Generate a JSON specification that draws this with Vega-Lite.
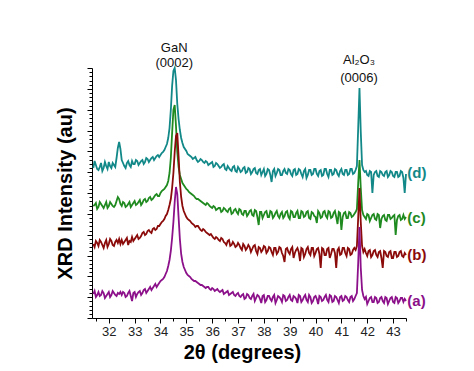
{
  "$schema": "https://vega.github.io/schema/vega-lite/v6.json",
  "width": 314,
  "height": 250,
  "autosize": {"type": "none"},
  "padding": {"left": 92, "top": 68, "right": 68, "bottom": 53},
  "background": "white",
  "config": {"view": {"stroke": null}, "font": "Liberation Sans"},
  "datasets": {
    "xrd": [
      {"x":31.4,"a":24,"b":74,"c":112,"d":150},
      {"x":31.5,"a":21,"b":77,"c":115,"d":153},
      {"x":31.6,"a":26,"b":72,"c":111,"d":148},
      {"x":31.7,"a":23,"b":76,"c":114,"d":155},
      {"x":31.8,"a":25,"b":70,"c":110,"d":150},
      {"x":31.9,"a":22,"b":78,"c":116,"d":152},
      {"x":32.0,"a":26,"b":74,"c":112,"d":156},
      {"x":32.1,"a":23,"b":77,"c":114,"d":150},
      {"x":32.2,"a":25,"b":72,"c":111,"d":153},
      {"x":32.3,"a":22,"b":78,"c":117,"d":160},
      {"x":32.35,"a":25,"b":75,"c":121,"d":170},
      {"x":32.4,"a":24,"b":79,"c":119,"d":176},
      {"x":32.45,"a":26,"b":74,"c":114,"d":169},
      {"x":32.5,"a":23,"b":78,"c":112,"d":158},
      {"x":32.6,"a":25,"b":76,"c":115,"d":152},
      {"x":32.7,"a":22,"b":80,"c":112,"d":155},
      {"x":32.8,"a":27,"b":77,"c":116,"d":153},
      {"x":32.9,"a":17,"b":81,"c":113,"d":157},
      {"x":33.0,"a":26,"b":79,"c":117,"d":154},
      {"x":33.1,"a":24,"b":83,"c":114,"d":157},
      {"x":33.2,"a":27,"b":80,"c":118,"d":155},
      {"x":33.3,"a":25,"b":85,"c":115,"d":158},
      {"x":33.4,"a":29,"b":83,"c":119,"d":156},
      {"x":33.5,"a":27,"b":87,"c":117,"d":159},
      {"x":33.6,"a":31,"b":86,"c":121,"d":158},
      {"x":33.7,"a":30,"b":89,"c":119,"d":161},
      {"x":33.8,"a":34,"b":88,"c":123,"d":160},
      {"x":33.9,"a":33,"b":92,"c":122,"d":163},
      {"x":34.0,"a":37,"b":94,"c":125,"d":163},
      {"x":34.1,"a":39,"b":97,"c":128,"d":166},
      {"x":34.2,"a":44,"b":102,"c":131,"d":171},
      {"x":34.25,"a":47,"b":104,"c":133,"d":174},
      {"x":34.3,"a":52,"b":108,"c":137,"d":180},
      {"x":34.35,"a":58,"b":113,"c":145,"d":190},
      {"x":34.4,"a":67,"b":119,"c":160,"d":208},
      {"x":34.45,"a":80,"b":130,"c":185,"d":232},
      {"x":34.5,"a":96,"b":145,"c":208,"d":247},
      {"x":34.55,"a":116,"b":166,"c":213,"d":250},
      {"x":34.6,"a":131,"b":182,"c":192,"d":238},
      {"x":34.65,"a":124,"b":185,"c":166,"d":214},
      {"x":34.7,"a":101,"b":162,"c":151,"d":199},
      {"x":34.75,"a":79,"b":136,"c":143,"d":188},
      {"x":34.8,"a":64,"b":121,"c":139,"d":180},
      {"x":34.85,"a":56,"b":112,"c":135,"d":175},
      {"x":34.9,"a":51,"b":107,"c":133,"d":171},
      {"x":35.0,"a":45,"b":101,"c":129,"d":167},
      {"x":35.1,"a":42,"b":98,"c":126,"d":163},
      {"x":35.2,"a":39,"b":95,"c":124,"d":161},
      {"x":35.3,"a":37,"b":93,"c":122,"d":160},
      {"x":35.4,"a":36,"b":92,"c":119,"d":158},
      {"x":35.5,"a":34,"b":90,"c":118,"d":157},
      {"x":35.6,"a":33,"b":87,"c":116,"d":158},
      {"x":35.7,"a":31,"b":88,"c":114,"d":155},
      {"x":35.8,"a":31,"b":85,"c":115,"d":156},
      {"x":35.9,"a":29,"b":83,"c":112,"d":154},
      {"x":36.0,"a":30,"b":82,"c":110,"d":156},
      {"x":36.1,"a":27,"b":79,"c":111,"d":152},
      {"x":36.2,"a":29,"b":80,"c":109,"d":154},
      {"x":36.3,"a":26,"b":77,"c":110,"d":150},
      {"x":36.4,"a":28,"b":79,"c":107,"d":153},
      {"x":36.5,"a":25,"b":75,"c":109,"d":149},
      {"x":36.6,"a":27,"b":77,"c":106,"d":152},
      {"x":36.7,"a":24,"b":72,"c":110,"d":148},
      {"x":36.8,"a":26,"b":76,"c":105,"d":151},
      {"x":36.9,"a":22,"b":71,"c":109,"d":147},
      {"x":37.0,"a":25,"b":75,"c":104,"d":151},
      {"x":37.1,"a":21,"b":70,"c":108,"d":146},
      {"x":37.2,"a":24,"b":74,"c":103,"d":150},
      {"x":37.3,"a":20,"b":68,"c":107,"d":145},
      {"x":37.4,"a":23,"b":73,"c":104,"d":150},
      {"x":37.5,"a":19,"b":66,"c":108,"d":144},
      {"x":37.6,"a":24,"b":72,"c":102,"d":149},
      {"x":37.7,"a":20,"b":67,"c":107,"d":145},
      {"x":37.8,"a":22,"b":71,"c":93,"d":148},
      {"x":37.9,"a":15,"b":66,"c":106,"d":143},
      {"x":38.0,"a":23,"b":72,"c":103,"d":149},
      {"x":38.1,"a":18,"b":65,"c":107,"d":144},
      {"x":38.2,"a":22,"b":71,"c":101,"d":148},
      {"x":38.3,"a":17,"b":66,"c":106,"d":136},
      {"x":38.4,"a":23,"b":70,"c":102,"d":149},
      {"x":38.5,"a":18,"b":64,"c":107,"d":145},
      {"x":38.6,"a":21,"b":71,"c":100,"d":148},
      {"x":38.7,"a":16,"b":65,"c":106,"d":143},
      {"x":38.8,"a":22,"b":56,"c":102,"d":149},
      {"x":38.9,"a":18,"b":70,"c":107,"d":144},
      {"x":39.0,"a":23,"b":64,"c":99,"d":148},
      {"x":39.1,"a":17,"b":71,"c":106,"d":142},
      {"x":39.2,"a":21,"b":65,"c":101,"d":149},
      {"x":39.3,"a":15,"b":70,"c":107,"d":144},
      {"x":39.4,"a":22,"b":57,"c":100,"d":148},
      {"x":39.5,"a":18,"b":69,"c":106,"d":141},
      {"x":39.6,"a":23,"b":64,"c":102,"d":149},
      {"x":39.7,"a":16,"b":71,"c":107,"d":143},
      {"x":39.8,"a":21,"b":63,"c":99,"d":148},
      {"x":39.9,"a":17,"b":70,"c":105,"d":144},
      {"x":40.0,"a":22,"b":65,"c":101,"d":149},
      {"x":40.1,"a":14,"b":70,"c":107,"d":142},
      {"x":40.2,"a":21,"b":50,"c":100,"d":148},
      {"x":40.3,"a":18,"b":69,"c":106,"d":143},
      {"x":40.4,"a":23,"b":63,"c":102,"d":149},
      {"x":40.5,"a":16,"b":70,"c":107,"d":141},
      {"x":40.6,"a":22,"b":64,"c":100,"d":148},
      {"x":40.7,"a":17,"b":69,"c":105,"d":144},
      {"x":40.8,"a":21,"b":50,"c":101,"d":148},
      {"x":40.9,"a":15,"b":70,"c":106,"d":142},
      {"x":41.0,"a":22,"b":64,"c":88,"d":149},
      {"x":41.1,"a":18,"b":70,"c":105,"d":143},
      {"x":41.2,"a":21,"b":62,"c":100,"d":148},
      {"x":41.3,"a":16,"b":69,"c":106,"d":144},
      {"x":41.4,"a":22,"b":64,"c":101,"d":149},
      {"x":41.5,"a":19,"b":70,"c":104,"d":145},
      {"x":41.55,"a":22,"b":68,"c":106,"d":148},
      {"x":41.6,"a":25,"b":72,"c":109,"d":152},
      {"x":41.65,"a":55,"b":100,"c":135,"d":190},
      {"x":41.7,"a":91,"b":130,"c":158,"d":230},
      {"x":41.75,"a":50,"b":96,"c":130,"d":186},
      {"x":41.8,"a":28,"b":72,"c":108,"d":153},
      {"x":41.85,"a":22,"b":66,"c":103,"d":148},
      {"x":41.9,"a":19,"b":69,"c":101,"d":146},
      {"x":42.0,"a":14,"b":62,"c":104,"d":143},
      {"x":42.1,"a":20,"b":68,"c":97,"d":147},
      {"x":42.2,"a":16,"b":63,"c":103,"d":125},
      {"x":42.3,"a":21,"b":68,"c":99,"d":146},
      {"x":42.4,"a":15,"b":61,"c":104,"d":142},
      {"x":42.5,"a":20,"b":67,"c":90,"d":147},
      {"x":42.6,"a":17,"b":50,"c":102,"d":143},
      {"x":42.7,"a":21,"b":66,"c":98,"d":146},
      {"x":42.8,"a":14,"b":61,"c":103,"d":141},
      {"x":42.9,"a":20,"b":67,"c":99,"d":147},
      {"x":43.0,"a":16,"b":60,"c":102,"d":142},
      {"x":43.1,"a":21,"b":66,"c":83,"d":146},
      {"x":43.2,"a":15,"b":62,"c":102,"d":141},
      {"x":43.3,"a":20,"b":67,"c":98,"d":147},
      {"x":43.4,"a":16,"b":61,"c":103,"d":140},
      {"x":43.45,"a":19,"b":65,"c":99,"d":125},
      {"x":43.5,"a":17,"b":63,"c":101,"d":144},
      {"x":31.45,"a":27,"b":71,"c":113,"d":157},
      {"x":31.55,"a":23,"b":75,"c":109,"d":149},
      {"x":31.65,"a":22,"b":78,"c":116,"d":151},
      {"x":31.75,"a":27,"b":73,"c":112,"d":147},
      {"x":31.85,"a":20,"b":75,"c":113,"d":156},
      {"x":31.95,"a":24,"b":71,"c":110,"d":149},
      {"x":32.05,"a":21,"b":79,"c":116,"d":152},
      {"x":32.15,"a":27,"b":73,"c":112,"d":155},
      {"x":32.25,"a":23,"b":76,"c":113,"d":151},
      {"x":32.55,"a":26,"b":74,"c":116,"d":155},
      {"x":32.65,"a":21,"b":78,"c":111,"d":150},
      {"x":32.75,"a":25,"b":73,"c":114,"d":157},
      {"x":32.85,"a":22,"b":76,"c":111,"d":151},
      {"x":32.95,"a":25,"b":77,"c":115,"d":154},
      {"x":33.05,"a":21,"b":81,"c":113,"d":158},
      {"x":33.15,"a":26,"b":79,"c":116,"d":153},
      {"x":33.25,"a":23,"b":82,"c":113,"d":157},
      {"x":33.35,"a":28,"b":86,"c":118,"d":154},
      {"x":33.45,"a":25,"b":84,"c":116,"d":160},
      {"x":33.55,"a":29,"b":88,"c":120,"d":156},
      {"x":33.65,"a":28,"b":85,"c":118,"d":160},
      {"x":33.75,"a":32,"b":90,"c":121,"d":158},
      {"x":33.85,"a":31,"b":89,"c":124,"d":162},
      {"x":33.95,"a":35,"b":92,"c":122,"d":161},
      {"x":34.05,"a":38,"b":96,"c":127,"d":165},
      {"x":34.15,"a":41,"b":99,"c":129,"d":168},
      {"x":35.05,"a":43,"b":99,"c":128,"d":164},
      {"x":35.15,"a":41,"b":97,"c":125,"d":162},
      {"x":35.25,"a":38,"b":94,"c":123,"d":159},
      {"x":35.35,"a":37,"b":91,"c":120,"d":161},
      {"x":35.45,"a":35,"b":92,"c":119,"d":156},
      {"x":35.55,"a":33,"b":88,"c":117,"d":159},
      {"x":35.65,"a":32,"b":89,"c":115,"d":156},
      {"x":35.75,"a":30,"b":86,"c":113,"d":157},
      {"x":35.85,"a":31,"b":84,"c":114,"d":153},
      {"x":35.95,"a":28,"b":84,"c":111,"d":155},
      {"x":36.05,"a":29,"b":80,"c":112,"d":151},
      {"x":36.15,"a":28,"b":81,"c":108,"d":155},
      {"x":36.25,"a":27,"b":78,"c":110,"d":152},
      {"x":36.35,"a":27,"b":80,"c":106,"d":151},
      {"x":36.45,"a":24,"b":76,"c":110,"d":154},
      {"x":36.55,"a":26,"b":73,"c":107,"d":148},
      {"x":36.65,"a":23,"b":78,"c":109,"d":150},
      {"x":36.75,"a":25,"b":73,"c":104,"d":147},
      {"x":36.85,"a":23,"b":74,"c":108,"d":152},
      {"x":36.95,"a":24,"b":72,"c":106,"d":146},
      {"x":37.05,"a":22,"b":73,"c":109,"d":149},
      {"x":37.15,"a":23,"b":68,"c":104,"d":147},
      {"x":37.25,"a":19,"b":72,"c":107,"d":151},
      {"x":37.35,"a":24,"b":70,"c":102,"d":146},
      {"x":37.45,"a":20,"b":71,"c":107,"d":149},
      {"x":37.55,"a":22,"b":69,"c":103,"d":146},
      {"x":37.65,"a":17,"b":73,"c":108,"d":150},
      {"x":37.75,"a":23,"b":64,"c":101,"d":144},
      {"x":37.85,"a":19,"b":70,"c":106,"d":149},
      {"x":37.95,"a":22,"b":68,"c":100,"d":146},
      {"x":38.05,"a":16,"b":71,"c":106,"d":142},
      {"x":38.15,"a":22,"b":67,"c":101,"d":149},
      {"x":38.25,"a":19,"b":70,"c":107,"d":143},
      {"x":38.35,"a":21,"b":63,"c":100,"d":147},
      {"x":38.45,"a":15,"b":70,"c":105,"d":142},
      {"x":38.55,"a":22,"b":66,"c":102,"d":149},
      {"x":38.65,"a":19,"b":70,"c":104,"d":143},
      {"x":38.75,"a":23,"b":62,"c":100,"d":147},
      {"x":38.85,"a":17,"b":69,"c":106,"d":145},
      {"x":38.95,"a":21,"b":66,"c":101,"d":149},
      {"x":39.05,"a":18,"b":69,"c":107,"d":144},
      {"x":39.15,"a":22,"b":60,"c":101,"d":148},
      {"x":39.25,"a":19,"b":68,"c":105,"d":143},
      {"x":39.35,"a":23,"b":66,"c":100,"d":149},
      {"x":39.45,"a":16,"b":70,"c":107,"d":144},
      {"x":39.55,"a":21,"b":61,"c":101,"d":147},
      {"x":39.65,"a":18,"b":69,"c":106,"d":140},
      {"x":39.75,"a":23,"b":65,"c":100,"d":148},
      {"x":39.85,"a":15,"b":70,"c":106,"d":143},
      {"x":39.95,"a":21,"b":62,"c":102,"d":149},
      {"x":40.05,"a":19,"b":69,"c":95,"d":144},
      {"x":40.15,"a":22,"b":64,"c":105,"d":147},
      {"x":40.25,"a":17,"b":70,"c":101,"d":142},
      {"x":40.35,"a":21,"b":63,"c":107,"d":149},
      {"x":40.45,"a":18,"b":69,"c":100,"d":144},
      {"x":40.55,"a":23,"b":60,"c":106,"d":148},
      {"x":40.65,"a":16,"b":69,"c":101,"d":143},
      {"x":40.75,"a":22,"b":65,"c":107,"d":149},
      {"x":40.85,"a":18,"b":68,"c":94,"d":144},
      {"x":40.95,"a":21,"b":63,"c":105,"d":147},
      {"x":41.05,"a":17,"b":70,"c":101,"d":144},
      {"x":41.15,"a":22,"b":65,"c":106,"d":148},
      {"x":41.25,"a":18,"b":70,"c":100,"d":143},
      {"x":41.35,"a":21,"b":63,"c":105,"d":149},
      {"x":41.45,"a":17,"b":68,"c":102,"d":144},
      {"x":41.95,"a":21,"b":65,"c":99,"d":147},
      {"x":42.05,"a":17,"b":67,"c":103,"d":142},
      {"x":42.15,"a":21,"b":61,"c":100,"d":146},
      {"x":42.25,"a":16,"b":67,"c":104,"d":143},
      {"x":42.35,"a":20,"b":63,"c":98,"d":147},
      {"x":42.45,"a":16,"b":66,"c":103,"d":141},
      {"x":42.55,"a":21,"b":60,"c":99,"d":146},
      {"x":42.65,"a":15,"b":67,"c":103,"d":142},
      {"x":42.75,"a":20,"b":62,"c":97,"d":147},
      {"x":42.85,"a":17,"b":66,"c":103,"d":143},
      {"x":42.95,"a":21,"b":60,"c":100,"d":146},
      {"x":43.05,"a":15,"b":66,"c":103,"d":141},
      {"x":43.15,"a":20,"b":61,"c":98,"d":146},
      {"x":43.25,"a":17,"b":66,"c":103,"d":142},
      {"x":43.35,"a":20,"b":62,"c":99,"d":146}
    ],
    "notes": [
      {"x":34.53,"v":270,"t":"GaN"},
      {"x":34.53,"v":255,"t":"(0002)"},
      {"x":41.68,"v":258,"t":"Al₂O₃"},
      {"x":41.68,"v":240,"t":"(0006)"}
    ],
    "tags": [
      {"x":43.55,"v":145,"series":"d","t":"(d)"},
      {"x":43.55,"v":100,"series":"c","t":"(c)"},
      {"x":43.55,"v":63,"series":"b","t":"(b)"},
      {"x":43.55,"v":17,"series":"a","t":"(a)"}
    ]
  },
  "encoding": {
    "x": {
      "field": "x", "type": "quantitative",
      "scale": {"domain": [31.35, 43.5], "nice": false, "zero": false},
      "axis": {
        "title": "2θ (degrees)",
        "titleFontSize": 20, "titleFontWeight": "bold", "titleColor": "black", "titlePadding": 4,
        "titleX": 150, "titleAlign": "center",
        "values": [31.5,32,32.5,33,33.5,34,34.5,35,35.5,36,36.5,37,37.5,38,38.5,39,39.5,40,40.5,41,41.5,42,42.5,43,43.5],
        "tickCount": 200,
        "format": ".0f",
        "labelExpr": "datum.value % 1 == 0 ? datum.label : ''",
        "labelOverlap": false, "labelFlush": false,
        "tickSize": {"condition": {"test": "datum.value % 1 == 0", "value": 5}, "value": 3},
        "tickColor": "black", "domainColor": "black", "tickWidth": 1,
        "labelFontSize": 13, "labelColor": "#222", "labelPadding": 2, "grid": false
      }
    },
    "y": {
      "field": "v", "type": "quantitative",
      "scale": {"domain": [0, 250], "nice": false},
      "axis": {
        "title": "XRD Intensity (au)",
        "titleFontSize": 20, "titleFontWeight": "bold", "titleColor": "black", "titlePadding": 11,
        "labels": false, "grid": false,
        "values": [0,4.1667,8.3333,12.5,16.6667,20.8333,25,29.1667,33.3333,37.5,41.6667,45.8333,50,54.1667,58.3333,62.5,66.6667,70.8333,75,79.1667,83.3333,87.5,91.6667,95.8333,100,104.1667,108.3333,112.5,116.6667,120.8333,125,129.1667,133.3333,137.5,141.6667,145.8333,150,154.1667,158.3333,162.5,166.6667,170.8333,175,179.1667,183.3333,187.5,191.6667,195.8333,200,204.1667,208.3333,212.5,216.6667,220.8333,225,229.1667,233.3333,237.5,241.6667,245.8333,250],
        "tickCount": 200,
        "tickSize": {"condition": {"test": "abs(datum.value/20.8333 - round(datum.value/20.8333)) < 0.01", "value": 5}, "value": 3},
        "tickColor": "black", "domainColor": "black", "tickWidth": 1
      }
    }
  },
  "layer": [
    {
      "data": {"name": "xrd"},
      "transform": [{"fold": ["d", "c", "b", "a"], "as": ["series", "v"]}],
      "mark": {"type": "line", "strokeWidth": 1.8},
      "encoding": {
        "color": {
          "field": "series", "type": "nominal",
          "scale": {"domain": ["a", "b", "c", "d"], "range": ["#8b1089", "#8b0a0a", "#1f8a1f", "#128888"]},
          "legend": null
        }
      }
    },
    {
      "data": {"name": "notes"},
      "mark": {"type": "text", "fontSize": 13, "color": "#111", "align": "center", "baseline": "middle"},
      "encoding": {
        "text": {"field": "t"}
      }
    },
    {
      "data": {"name": "tags"},
      "mark": {"type": "text", "fontSize": 15, "fontWeight": "bold", "align": "left", "baseline": "middle"},
      "encoding": {
        "text": {"field": "t"},
        "color": {"field": "series", "type": "nominal"}
      }
    }
  ]
}
